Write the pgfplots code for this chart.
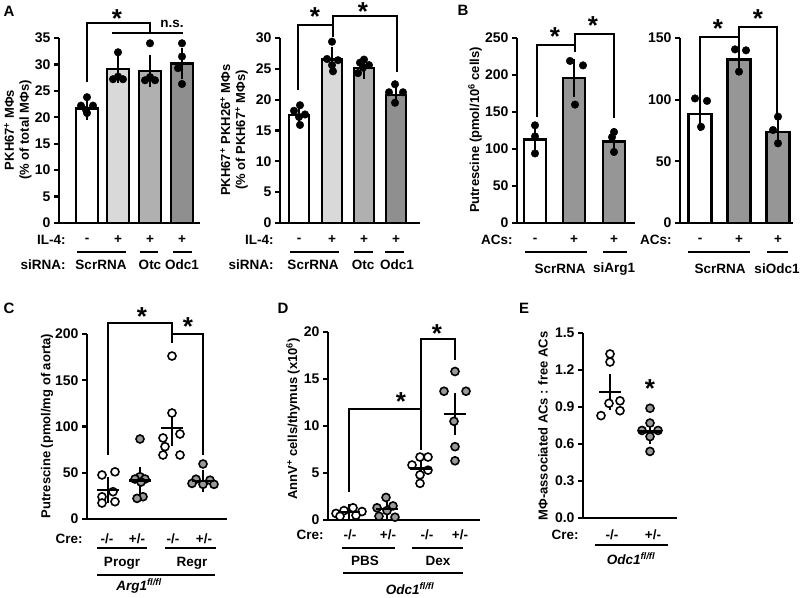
\documentclass[border=0pt]{standalone}
\usepackage{fontspec}
\setmainfont{Liberation Sans}
\usepackage{pgfplots}
\pgfplotsset{compat=1.18}

\definecolor{circgray}{gray}{0.6}

\pgfplotsset{
  panel/.style={scale only axis, anchor=south west,
    axis x line=bottom, axis y line=left,
    axis line style={-, line width=2.2pt},
    xtick=\empty, clip=false, ymin=0,
    tick align=outside, major tick length=5pt,
    tick style={line width=2.2pt, black},
    tick label style={font=\fontsize{14}{14}\selectfont\bfseries},
    /pgf/number format/assume math mode=true},
  bar/.style={ybar, bar shift=0pt, bar width=#1, draw=black, line width=2.4pt,
    /pgfplots/error bars/y dir=both, /pgfplots/error bars/y explicit,
    /pgfplots/error bars/error bar style={line width=2.2pt, black},
    /pgfplots/error bars/error mark options={line width=2.2pt, black, mark size=6pt}},
  dots/.style={only marks, mark=*, black, mark size=3.8pt},
  open/.style={only marks, mark=*, mark size=4pt,
    mark options={draw=black, fill=white, line width=1.6pt}},
  filled/.style={only marks, mark=*, mark size=4pt,
    mark options={draw=black, fill=circgray, line width=1.6pt}},
  sem/.style={only marks, mark=-, mark size=11pt,
    mark options={line width=2.4pt, black},
    /pgfplots/error bars/y dir=both, /pgfplots/error bars/y explicit,
    /pgfplots/error bars/error bar style={line width=2.2pt, black},
    /pgfplots/error bars/error mark options={line width=2.2pt, black, mark size=7pt}},
}

\begin{document}
\begin{tikzpicture}[font=\fontsize{13.5}{15}\selectfont\bfseries]
\path[use as bounding box] (0pt,0pt) rectangle (800pt,-597pt);

% ---- A left
\begin{axis}[panel, at={(59pt,-223pt)}, width=141pt, height=185pt,
  xmin=59, xmax=200, ymax=35, ytick={0,5,...,35}]
\addplot[fill=white, bar=22] coordinates {(87,21.7) +- (0,1.0)};
\addplot[fill=black!15, bar=22] coordinates {(118,29.1) +- (0,1.5)};
\addplot[fill=black!31, bar=22] coordinates {(150,28.8) +- (0,1.9)};
\addplot[fill=black!44, bar=22] coordinates {(182,30.2) +- (0,1.8)};
\addplot[dots] coordinates {(87,23.8) (81,22.2) (93,22.2) (86,21.4) (87,20.8)
  (118,32.3) (113,27.2) (123,27.2) (118,27.7)
  (150,34.0) (145,27.0) (155,27.0) (150,27.6)
  (182,34.0) (182,31.5) (178,29.3) (182,26.3)};
\end{axis}

% ---- A right
\begin{axis}[panel, at={(280pt,-223pt)}, width=140pt, height=185pt,
  xmin=280, xmax=420, ymax=30, ytick={0,5,...,30}]
\addplot[fill=white, bar=20] coordinates {(299,17.5) +- (0,0.8)};
\addplot[fill=black!15, bar=20] coordinates {(332,26.5) +- (0,1.1)};
\addplot[fill=black!31, bar=20] coordinates {(364,25.1) +- (0,0.7)};
\addplot[fill=black!44, bar=20] coordinates {(396,20.8) +- (0,0.7)};
\addplot[dots] coordinates {(300,19.1) (294,18.2) (305,17.6) (299,17.2) (300,15.9)
  (332,29.4) (327,26.6) (338,26.4) (332,25.6) (333,24.6)
  (364,26.5) (360,26.0) (369,25.6) (363,25.2) (358,24.3)
  (395,22.5) (389,21.2) (403,21.2) (395,19.5)};
\end{axis}

% ---- B left
\begin{axis}[panel, at={(517pt,-223pt)}, width=118pt, height=185pt,
  xmin=517, xmax=635, ymax=250, ytick={0,50,...,250}]
\addplot[fill=white, bar=22] coordinates {(535,113) +- (0,12)};
\addplot[fill=black!41, bar=22] coordinates {(574,196) +- (0,18)};
\addplot[fill=black!41, bar=22] coordinates {(614,110) +- (0,10)};
\addplot[dots] coordinates {(535,132) (535,117) (535,94)
  (570,219) (583,213) (575,160)
  (614,123) (612,116) (614,96)};
\end{axis}

% ---- B right
\begin{axis}[panel, at={(680pt,-223pt)}, width=113pt, height=185pt,
  xmin=680, xmax=793, ymax=150, ytick={0,50,...,150}]
\addplot[fill=white, bar=23] coordinates {(700,88.6) +- (0,9)};
\addplot[fill=black!41, bar=23] coordinates {(739,132.7) +- (0,6.5)};
\addplot[fill=black!41, bar=23] coordinates {(778,73.8) +- (0,6.5)};
\addplot[dots] coordinates {(695,101) (707,99) (701,78)
  (735,140.8) (746,140) (739,122.7)
  (778,86.2) (773,75.4) (778,64.6)};
\end{axis}

% ---- C
\begin{axis}[panel, at={(87pt,-519pt)}, width=140pt, height=185pt,
  xmin=87, xmax=227, ymax=200, ytick={0,50,...,200}]
\addplot[open] coordinates {(102,47.6) (115,51) (113,29.5) (102,24) (102,17.3) (115,18.7)};
\addplot[filled] coordinates {(140,86.5) (140,45.7) (135,43.2) (145,43.2) (141,40) (143,24.1) (137,22.3)};
\addplot[open] coordinates {(172,176.2) (172,114.6) (163,87.6) (180,91.9) (165,78.2) (163,69.2) (180,69.2)};
\addplot[filled] coordinates {(203,59.5) (196,43) (210,42) (192,38.5) (203,37.5) (214,37.5)};
\addplot[sem] coordinates {(108,31.4) +- (0,6.3) (140,41.5) +- (0,7) (172,98.4) +- (0,12) (203,41.4) +- (0,4.5)};
\end{axis}

% ---- D
\begin{axis}[panel, at={(328pt,-520pt)}, width=152pt, height=188pt,
  xmin=328, xmax=480, ymax=20, ytick={0,5,...,20}]
\addplot[open] coordinates {(336,0.7) (344,1.0) (353,1.3) (362,0.9) (340,0.4) (356,0.5)};
\addplot[filled] coordinates {(386,2.4) (377,1.3) (393,1.5) (387,1.0) (379,0.4) (395,0.3)};
\addplot[open] coordinates {(412,5.85) (420,6.7) (428,6.7) (428,5.3) (420,4.8) (420,3.9)};
\addplot[filled] coordinates {(455,15.8) (444,13.7) (466,13.7) (454,10.5) (455,7.8) (455,6.3)};
\addplot[sem] coordinates {(349,0.85) +- (0,0.15) (387,1.15) +- (0,0.3) (421,5.5) +- (0,0.4) (455,11.3) +- (0,1.5)};
\end{axis}

% ---- E
\begin{axis}[panel, at={(583pt,-518pt)}, width=94pt, height=185pt,
  xmin=583, xmax=677, ymax=1.5, ytick={0,0.3,...,1.5},
  yticklabel style={/pgf/number format/.cd, fixed, fixed zerofill, precision=1}]
\addplot[open] coordinates {(610,1.33) (610,1.265) (601,0.83) (609,0.93) (620,0.95) (620,0.87)};
\addplot[filled] coordinates {(650,0.89) (650,0.77) (642,0.71) (658,0.71) (650,0.66) (650,0.54)};
\addplot[sem] coordinates {(610,1.02) +- (0,0.09) (650,0.70) +- (0,0.04)};
\end{axis}

% ---- annotations, in image pixels
\begin{scope}[x=1pt, y=-1pt, line width=2.2pt]
\tikzset{star/.style={font=\fontsize{26}{26}\selectfont\bfseries, inner sep=0pt}}
\newcommand{\ul}[3]{\draw (#1,#3) -- (#2,#3);}
\newcommand{\ylab}[3]{\node[rotate=90, align=center, font=\fontsize{13}{15}\selectfont\bfseries] at (#1,#2) {#3};}
\def\big{\fontsize{15}{15}\selectfont\bfseries}

% panel letters
\node[font=\big] at (9,11) {A};
\node[font=\big] at (463,10) {B};
\node[font=\big] at (9,308) {C};
\node[font=\big] at (283,308) {D};
\node[font=\big] at (524,308) {E};

% A left
\ylab{18}{130}{PKH67\textsuperscript{+} MΦs\\(\% of total MΦs)}
\node[anchor=east] at (70,240) {IL-4:};
\node at (87,240) {-}; \node at (118,240) {+}; \node at (150,240) {+}; \node at (182,240) {+};
\ul{77}{126}{252} \ul{140}{158}{252} \ul{173}{192}{252}
\node[anchor=east] at (70,265) {siRNA:};
\node at (101,265) {ScrRNA}; \node at (150,265) {Otc}; \node at (182,265) {Odc1};
\draw (87,82) -- (87,23) -- (150,23) -- (150,33);
\draw (112,33) -- (183,33);
\node[star] at (117,19) {*};
\node at (172,24) {n.s.};

% A right
\ylab{234}{130}{PKH67\textsuperscript{+} PKH26\textsuperscript{+} MΦs\\(\% of PKH67\textsuperscript{+} MΦs)}
\node[anchor=east] at (278,240) {IL-4:};
\node at (299,240) {-}; \node at (332,240) {+}; \node at (364,240) {+}; \node at (396,240) {+};
\ul{290}{339}{252} \ul{354}{373}{252} \ul{385}{404}{252}
\node[anchor=east] at (278,265) {siRNA:};
\node at (313,265) {ScrRNA}; \node at (363,265) {Otc}; \node at (397,265) {Odc1};
\draw (298,90) -- (298,25) -- (333,25);
\draw (333,37) -- (333,16) -- (397,16) -- (397,72);
\node[star] at (315,17) {*};
\node[star] at (363,12) {*};

% B left
\ylab{475}{130}{Putrescine (pmol/10\textsuperscript{6} cells)}
\node[anchor=east] at (517,240) {ACs:};
\node at (535,240) {-}; \node at (574,240) {+}; \node at (614,240) {+};
\ul{525}{587}{252} \ul{603}{627}{252}
\node at (560,269) {ScrRNA}; \node at (614,269) {siArg1};
\draw (537,117) -- (537,45) -- (575,45);
\draw (575,52) -- (575,34) -- (614,34) -- (614,118);
\node[star] at (555,37) {*};
\node[star] at (593,26) {*};

% B right
\node[anchor=east] at (676,240) {ACs:};
\node at (700,240) {-}; \node at (739,240) {+}; \node at (778,240) {+};
\ul{688}{750}{252} \ul{767}{788}{252}
\node at (720,269) {ScrRNA}; \node at (777,269) {siOdc1};
\draw (700,97) -- (700,37) -- (739,37);
\draw (739,47) -- (739,27) -- (777,27) -- (777,115);
\node[star] at (718,29) {*};
\node[star] at (758,19) {*};

% C
\ylab{47}{426}{Putrescine (pmol/mg of aorta)}
\node[anchor=east] at (87,539) {Cre:};
\node at (107,539) {-/-}; \node at (137,539) {+/-}; \node at (173,539) {-/-}; \node at (204,539) {+/-};
\ul{97}{147}{548} \ul{165}{216}{548}
\node at (122,563) {Progr}; \node at (192,563) {Regr};
\ul{97}{215}{575}
\node at (139,586) {\itshape Arg1\textsuperscript{fl/fl}};
\draw (108,455) -- (108,323) -- (172,323) -- (172,343);
\draw (172,334) -- (203,334) -- (203,455);
\node[star] at (142,317) {*};
\node[star] at (188,327) {*};

% D
\ylab{293}{419}{AnnV\textsuperscript{+} cells/thymus (x10\textsuperscript{6})}
\node[anchor=east, inner ysep=1pt] at (328,535) {Cre:};
\node at (350,535) {-/-}; \node at (388,535) {+/-}; \node at (427,535) {-/-}; \node at (460,535) {+/-};
\ul{342}{395}{548} \ul{412}{463}{548}
\node at (365,561) {PBS}; \node at (438,561) {Dex};
\ul{343}{463}{573}
\node at (410,589) {\itshape Odc1\textsuperscript{fl/fl}};
\draw (349,492) -- (349,409) -- (421,409);
\draw (421,450) -- (421,339) -- (455,339) -- (455,360);
\node[star] at (401,402) {*};
\node[star] at (437,334) {*};

% E
\ylab{543}{426}{MΦ-associated ACs : free ACs}
\node[anchor=east] at (583,535) {Cre:};
\node at (612,535) {-/-}; \node at (653,535) {+/-};
\ul{595}{668}{545}
\node at (631,559) {\itshape Odc1\textsuperscript{fl/fl}};
\node[star] at (650,389) {*};
\end{scope}
\end{tikzpicture}
\end{document}
